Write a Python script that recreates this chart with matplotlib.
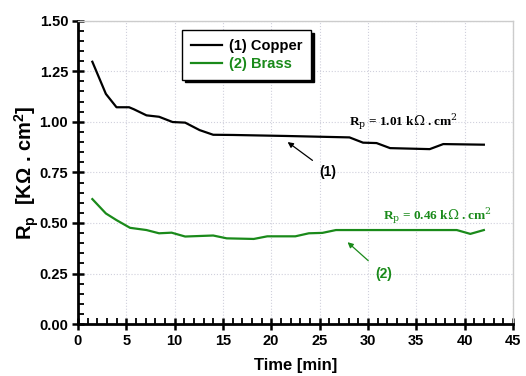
import matplotlib
matplotlib.use("Agg")
import matplotlib.pyplot as plt
from matplotlib.ticker import MultipleLocator

plt.rcParams['font.family'] = ['Liberation Sans', 'DejaVu Sans']
plt.rcParams['mathtext.fontset'] = 'custom'
plt.rcParams['mathtext.rm'] = 'Liberation Sans:bold'
plt.rcParams['mathtext.it'] = 'Liberation Sans:bold'
plt.rcParams['mathtext.bf'] = 'Liberation Sans:bold'

copper_t = [1.5, 2.9, 4.0, 5.3, 5.8, 7.1, 8.4, 9.8, 11.1, 12.6, 14.0, 16.1, 21.6, 28.1, 29.5, 30.9, 32.3, 36.4, 37.8, 42.0]
copper_rp = [1.297, 1.138, 1.072, 1.072, 1.062, 1.032, 1.025, 0.999, 0.996, 0.959, 0.936, 0.935, 0.930, 0.923, 0.897, 0.895, 0.870, 0.865, 0.890, 0.887]
brass_t = [1.5, 2.9, 4.0, 5.4, 7.1, 8.4, 9.7, 11.1, 14.0, 15.4, 18.2, 19.6, 22.5, 23.9, 25.3, 26.7, 39.2, 40.6, 42.0]
brass_rp = [0.618, 0.547, 0.514, 0.476, 0.465, 0.449, 0.452, 0.433, 0.438, 0.424, 0.421, 0.434, 0.434, 0.449, 0.451, 0.465, 0.465, 0.446, 0.465]

green = '#1a8a1a'

fig = plt.figure(figsize=(5.26, 3.76), dpi=100)
ax = fig.add_axes([0.148, 0.138, 0.827, 0.807])
ax.plot(copper_t, copper_rp, color='black', lw=1.6, label='(1) Copper')
ax.plot(brass_t, brass_rp, color=green, lw=1.6, label='(2) Brass')

ax.set_xlim(0, 45)
ax.set_ylim(0, 1.5)
ax.xaxis.set_major_locator(MultipleLocator(5))
ax.xaxis.set_minor_locator(MultipleLocator(1))
ax.yaxis.set_major_locator(MultipleLocator(0.25))
ax.yaxis.set_minor_locator(MultipleLocator(0.05))
ax.yaxis.set_major_formatter(plt.FuncFormatter(lambda v, p: f'{v:.2f}'))
ax.grid(True, which='major', color='#d0d0dc', ls=':', lw=0.8)

for s in ['left', 'bottom']:
    ax.spines[s].set_linewidth(2)
for s in ['top', 'right']:
    ax.spines[s].set_color('#cccccc')
    ax.spines[s].set_linewidth(1)
ax.tick_params(which='major', direction='inout', length=8, width=1.8, labelsize=10.5, pad=3)
ax.tick_params(which='minor', direction='in', length=4, width=1.3)
ax.tick_params(top=False, right=False, which='both')
for lbl in ax.get_xticklabels() + ax.get_yticklabels():
    lbl.set_fontweight('bold')

ax.set_xlabel('Time [min]', fontsize=12, fontweight='bold', labelpad=7)
ax.set_ylabel(r'R$_\mathrm{p}$  [K$\Omega$ . cm$^\mathrm{2}$]', fontsize=14.5, fontweight='bold', labelpad=-1)

leg = ax.legend(loc='upper left', bbox_to_anchor=(0.240, 0.968), fontsize=10.5,
                frameon=True, fancybox=False, shadow={'color': 'black', 'alpha': 1},
                edgecolor='black', handlelength=2.1, borderpad=0.6, labelspacing=0.25,
                handletextpad=0.5, borderaxespad=0)
leg.get_frame().set_linewidth(1)
for t, c in zip(leg.get_texts(), ['black', green]):
    t.set_color(c)
    t.set_fontweight('bold')

ax.text(28.1, 1.0, r'R$_\mathrm{p}$ = 1.01 k$\Omega$ . cm$^\mathrm{2}$', fontsize=9.5,
        family='Liberation Serif', fontweight='bold', va='center', ha='left',
        math_fontfamily='dejavuserif')
ax.text(31.6, 0.534, r'R$_\mathrm{p}$ = 0.46 k$\Omega$ . cm$^\mathrm{2}$', fontsize=9.5,
        family='Liberation Serif', fontweight='bold', va='center', ha='left', color=green,
        math_fontfamily='dejavuserif')

ax.annotate('(1)', xy=(21.7, 0.90), xytext=(25.9, 0.752), fontsize=10, fontweight='bold',
            ha='center', va='center',
            arrowprops=dict(arrowstyle='-|>', color='black', lw=0.9, shrinkA=4, shrinkB=0,
                            mutation_scale=8))
ax.annotate('(2)', xy=(27.9, 0.405), xytext=(31.6, 0.247), fontsize=10, fontweight='bold',
            ha='center', va='center', color=green,
            arrowprops=dict(arrowstyle='-|>', color=green, lw=0.9, shrinkA=4, shrinkB=0,
                            mutation_scale=8))

fig.savefig('out.png', dpi=100)
